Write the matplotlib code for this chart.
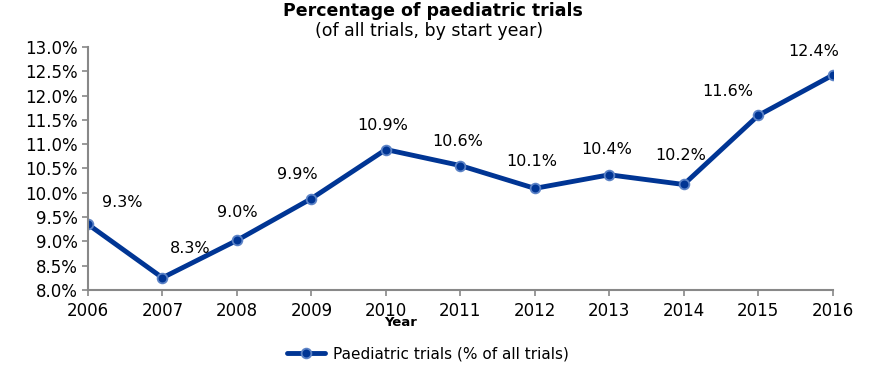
import matplotlib.pyplot as plt
from matplotlib.ticker import FuncFormatter

# data
years = [2006, 2007, 2008, 2009, 2010, 2011, 2012, 2013, 2014, 2015, 2016]
values = [9.35, 8.25, 9.02, 9.88, 10.89, 10.56, 10.09, 10.37, 10.17, 11.59, 12.42]
labels = ['9.3%', '8.3%', '9.0%', '9.9%', '10.9%', '10.6%', '10.1%', '10.4%', '10.2%', '11.6%', '12.4%']

# label offsets in points (dx, dy)
offsets = [(25, 16), (20, 21), (0, 20), (-10, 17), (-2, 17), (-2, 17), (-2, 19), (-2, 18), (-2, 21), (-22, 17), (-14, 17)]

fig = plt.figure(figsize=(8.73, 3.82), dpi=100)
ax = fig.add_axes([0.1008, 0.241, 0.853, 0.636])

blue = '#003594'
ax.plot(years, values, color=blue, lw=3.5, marker='o', ms=7,
        markerfacecolor=blue, markeredgecolor='#5b82c6', markeredgewidth=1.3,
        label='Paediatric trials (% of all trials)', solid_capstyle='round')

for x, y, t, (dx, dy) in zip(years, values, labels, offsets):
    ax.annotate(t, (x, y), xytext=(dx, dy), textcoords='offset points',
                ha='center', va='center', fontsize=11.5, color='black')

ax.set_xlim(2006, 2016)
ax.set_ylim(8.0, 13.0)
ax.set_xticks(years)
ax.set_yticks([8.0 + 0.5 * i for i in range(11)])
ax.yaxis.set_major_formatter(FuncFormatter(lambda v, p: f'{v:.1f}%'))
ax.tick_params(labelsize=12, colors='#888888', labelcolor='black', length=4, width=1.2)
ax.tick_params(axis='x', pad=5)
for s in ['top', 'right']:
    ax.spines[s].set_visible(False)
for s in ['left', 'bottom']:
    ax.spines[s].set_color('#888888')
    ax.spines[s].set_linewidth(1.5)
ax.margins(0)
for lbl in ax.get_xticklabels() + ax.get_yticklabels():
    lbl.set_clip_on(False)

fig.text(401 / 873, 1 - 322 / 382, 'Year', ha='center', va='center', fontsize=9.5, fontweight='bold')
fig.text(433 / 873, 1 - 11 / 382, 'Percentage of paediatric trials', ha='center', va='center',
         fontsize=12.5, fontweight='bold')
fig.text(429 / 873, 1 - 31 / 382, '(of all trials, by start year)', ha='center', va='center', fontsize=12.5)

leg = fig.legend(loc='center', bbox_to_anchor=(428 / 873, 1 - 354 / 382), frameon=False,
                 fontsize=11, handlelength=2.5, handletextpad=0.5)

fig.savefig('out.png', dpi=100)
